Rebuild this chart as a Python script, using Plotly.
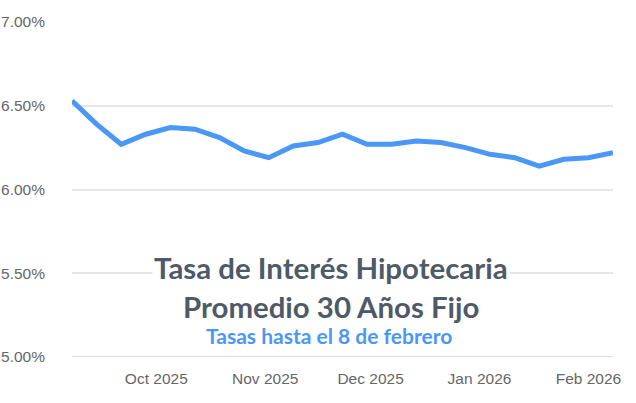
import plotly.graph_objects as go

dates = ["2025-09-07", "2025-09-14", "2025-09-21", "2025-09-28", "2025-10-05", "2025-10-12",
         "2025-10-19", "2025-10-26", "2025-11-02", "2025-11-09", "2025-11-16", "2025-11-23",
         "2025-11-30", "2025-12-07", "2025-12-14", "2025-12-21", "2025-12-28", "2026-01-04",
         "2026-01-11", "2026-01-18", "2026-01-25", "2026-02-01", "2026-02-08"]
rates = [6.53, 6.39, 6.27, 6.33, 6.37, 6.36, 6.31, 6.23, 6.19, 6.26, 6.28, 6.33,
         6.27, 6.27, 6.29, 6.28, 6.25, 6.21, 6.19, 6.14, 6.18, 6.19, 6.22]
y_ticks = [5.0, 5.5, 6.0, 6.5, 7.0]
y_tick_labels = ["5.00%", "5.50%", "6.00%", "6.50%", "7.00%"]
x_ticks = ["2025-10-01", "2025-11-01", "2025-12-01", "2026-01-01", "2026-02-01"]
x_tick_labels = ["Oct 2025", "Nov 2025", "Dec 2025", "Jan 2026", "Feb 2026"]

title1 = "Tasa de Interés Hipotecaria"
title2 = "Promedio 30 Años Fijo"
subtitle = "Tasas hasta el 8 de febrero"

fig = go.Figure()
fig.add_trace(go.Scatter(x=dates, y=rates, mode="lines",
                         line=dict(color="#4a97f6", width=5),
                         hoverinfo="skip"))

fig.update_layout(
    width=636, height=403,
    margin=dict(l=72, r=23, t=22, b=46),
    paper_bgcolor="white", plot_bgcolor="white",
    showlegend=False,
    font=dict(family="Liberation Sans, Arial", color="#666666", size=15.5),
    xaxis=dict(range=[dates[0], dates[-1]], tickvals=x_ticks, ticktext=x_tick_labels,
               showgrid=False, zeroline=False, showline=False, ticks="", automargin=False,
               ticklabelstandoff=10,
               tickfont=dict(size=15.5, color="#666666")),
    yaxis=dict(range=[5.0, 7.0], tickvals=y_ticks, ticktext=y_tick_labels,
               showgrid=True, gridcolor="#e6e6e6", gridwidth=1.5, zeroline=False,
               showline=False, ticks="", ticklabelstandoff=26, automargin=False,
               tickfont=dict(size=15.5, color="#666666")),
    annotations=[
        dict(x=0.479, y=5.535, xref="paper", yref="y", text=title1, showarrow=False,
             font=dict(family="Lato", size=29.4, color="#4f5a68", weight="bold"),
             bgcolor="white", yanchor="middle"),
        dict(x=0.479, y=5.30, xref="paper", yref="y", text=title2, showarrow=False,
             font=dict(family="Lato", size=29.4, color="#4f5a68", weight="bold"),
             bgcolor="white", yanchor="middle"),
        dict(x=0.475, y=5.13, xref="paper", yref="y", text=subtitle, showarrow=False,
             font=dict(family="Lato", size=21, color="#4a97f6", weight="bold"),
             yanchor="middle"),
    ],
)
fig.add_shape(type="line", xref="paper", yref="y", x0=0, x1=1, y0=5.0, y1=5.0,
              line=dict(color="#d0d0d0", width=1.5), layer="above")

fig.write_html("out.html", config={"displayModeBar": False},
               post_script="document.body.style.margin='0px';")
